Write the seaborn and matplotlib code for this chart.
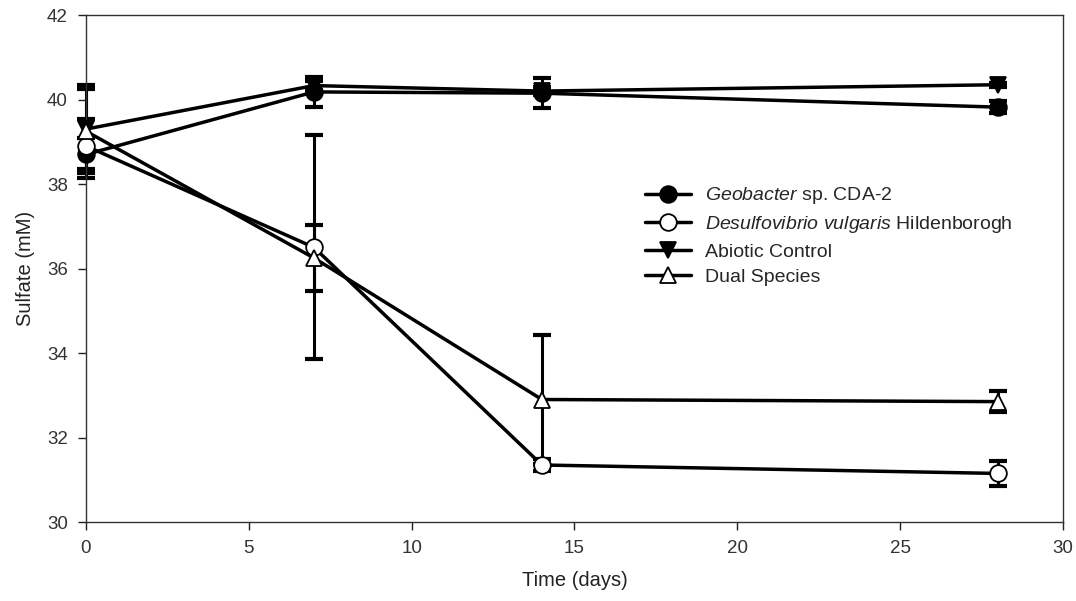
import matplotlib
matplotlib.use("Agg")
import matplotlib.pyplot as plt
import seaborn as sns
import pandas as pd

days = [0, 7, 14, 28]
geobacter = [38.70, 40.18, 40.15, 39.82]
geobacter_err = [0.40, 0.35, 0.35, 0.15]
desulfo = [38.90, 36.50, 31.35, 31.15]
desulfo_err = [0.65, 2.65, 0.15, 0.30]
abiotic = [39.30, 40.33, 40.20, 40.35]
abiotic_err = [0.95, 0.10, 0.10, 0.05]
dual = [39.25, 36.25, 32.90, 32.85]
dual_err = [1.10, 0.78, 1.52, 0.25]

labels = [r"$\it{Geobacter}$ sp. CDA-2",
          r"$\it{Desulfovibrio\ vulgaris}$ Hildenborogh",
          "Abiotic Control",
          "Dual Species"]

sns.set_theme(style="ticks")
plt.rcParams["font.family"] = ["Liberation Sans", "DejaVu Sans"]
plt.rcParams["mathtext.fontset"] = "custom"
plt.rcParams["mathtext.rm"] = "Liberation Sans"
plt.rcParams["mathtext.it"] = "Liberation Sans:italic"

fig = plt.figure(figsize=(10.76, 6.01), dpi=100)
ax = fig.add_axes([0.0799, 0.1314, 0.908, 0.8436])

series = [
    (geobacter, geobacter_err, "o", "black"),
    (desulfo, desulfo_err, "o", "white"),
    (abiotic, abiotic_err, "v", "black"),
    (dual, dual_err, "^", "white"),
]

for (vals, errs, mk, fc), lab in zip(series, labels):
    ax.errorbar(days, vals, yerr=errs, fmt="none", ecolor="black",
                elinewidth=2.2, capsize=6.5, capthick=3, zorder=2)

for (vals, errs, mk, fc), lab in zip(series, labels):
    df = pd.DataFrame({"Time": days, "Sulfate": vals})
    sns.lineplot(data=df, x="Time", y="Sulfate", ax=ax, color="black",
                 marker=mk, markersize=12, markerfacecolor=fc,
                 markeredgecolor="black", markeredgewidth=1.3,
                 linewidth=2.5, label=lab, zorder=3)

for ln in ax.lines:
    ln.set_clip_on(False)
for c in ax.collections:
    c.set_clip_on(False)

ax.set_xlim(0, 30)
ax.set_ylim(30, 42)
ax.set_xticks([0, 5, 10, 15, 20, 25, 30])
ax.set_yticks([30, 32, 34, 36, 38, 40, 42])
ax.tick_params(axis="both", direction="out", length=6, width=1,
               labelsize=13.5, colors="#222222", labelcolor="#333333")
ax.tick_params(axis="x", pad=7)
ax.tick_params(axis="y", pad=7)
for s in ax.spines.values():
    s.set_linewidth(1)
    s.set_color("#333333")
ax.set_xlabel("Time (days)", fontsize=14.5, color="#222222", labelpad=10)
ax.set_ylabel("Sulfate (mM)", fontsize=14.5, color="#222222", labelpad=9)

leg = ax.legend(loc="upper left", bbox_to_anchor=(0.572, 0.664), frameon=False,
                fontsize=14, handlelength=2.4, labelspacing=0.4,
                handletextpad=0.7, borderpad=0, borderaxespad=0)

fig.savefig("out.png", dpi=100)
